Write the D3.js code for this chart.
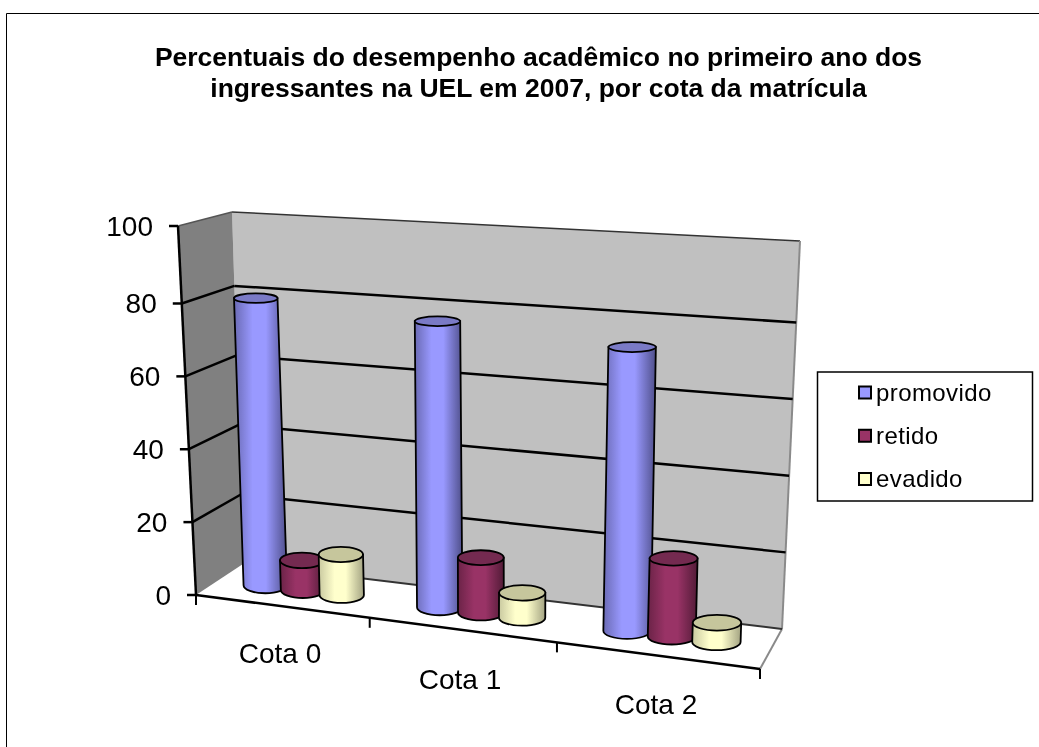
<!DOCTYPE html>
<html lang="pt">
<head>
<meta charset="utf-8">
<title>Desempenho acadêmico UEL 2007</title>
<script src="https://d3js.org/d3.v7.min.js"></script>
<style>
body{ margin:0; background:#fff; }
svg{ display:block; }
text{ font-family:"Liberation Sans",Arial,sans-serif; fill:#000; }
.soft{ filter:blur(0.35px); }
</style>
</head>
<body>
<div id="chart"></div>
<script>
const categories = ["Cota 0", "Cota 1", "Cota 2"];
const seriesNames = ["promovido", "retido", "evadido"];
const promovido = [80, 77.3, 74.3];
const retido = [8.2, 14.7, 20.3];
const evadido = [11.1, 6.6, 5];
const yTicks = [0, 20, 40, 60, 80, 100];
const titleLines = ["Percentuais do desempenho acadêmico no primeiro ano dos",
                    "ingressantes na UEL em 2007, por cota da matrícula"];
const values = [promovido, retido, evadido];

const W = 1039, H = 747;
const colors = [
  {side:"#9999ff", edge:"#6a6ab4", dark:"#4f4f8a", top:"#7a7ac6"},
  {side:"#993366", edge:"#6b2347", dark:"#521b37", top:"#742a50"},
  {side:"#ffffcc", edge:"#c9c9a0", dark:"#a3a382", top:"#c6c69c"}
];

const svg = d3.select("#chart").append("svg").attr("width", W).attr("height", H);
const defs = svg.append("defs");

// frame corners of the 3D box, value 0 and value 100
const floorFL = [196,595], floorFR = [760,669], floorBL = [243,564], floorBR = [782,629];
const topFL = [178,226], topFR = [771,265], topBL = [232,212], topBR = [800,241];

// the picture has a bit of perspective, so neither direction is quite linear
const tx = d3.scaleLinear().domain([0,1/6,1/3,1/2,2/3,5/6,1]).range([0,.151,.308,.474,.64,.82,1]);
const vy = d3.scaleLinear().domain([0,80,100]).range([0,.79,1]);
const lerp = (a,b,t) => [a[0]+(b[0]-a[0])*t, a[1]+(b[1]-a[1])*t];

// t along categories, d depth (0 front, 1 back), v value
function project(t,d,v){
  const u = tx(t), k = vy(v);
  const f = lerp(lerp(floorFL,floorFR,u), lerp(floorBL,floorBR,u), d);
  const c = lerp(lerp(topFL,topFR,u), lerp(topBL,topBR,u), d);
  return lerp(f,c,k);
}
const poly = pts => "M"+pts.map(p=>p.join(",")).join("L")+"Z";
const seg = (g,a,b,col,w) => g.append("line").attr("x1",a[0]).attr("y1",a[1]).attr("x2",b[0]).attr("y2",b[1])
  .attr("stroke",col).attr("stroke-width",w);

const x0 = d3.scaleBand().domain(categories).range([0,1]);
const x1 = d3.scalePoint().domain(seriesNames).range([-0.075,0.075]);
const rx = d3.scaleLinear().domain([0,1]).range([21.5,24.5]);
const ry = d3.scaleLinear().domain([0,100]).range([8,4]);

// page frame
const frame = svg.append("g");
seg(frame,[6.5,13.5],[W,13.5],"#000",1);
seg(frame,[6.5,13.5],[6.5,H],"#000",1);

const root = svg.append("g").attr("class","soft");

// title
root.append("g").selectAll("text").data(titleLines).enter().append("text")
  .attr("x",538.5).attr("y",(d,i)=>66+i*31)
  .attr("text-anchor","middle").attr("font-weight","bold").attr("font-size",26.5)
  .text(d=>d);

// walls
const walls = root.append("g");
walls.append("path").attr("d",poly([floorFL,floorFR,floorBR,floorBL])).attr("fill","#fff");
walls.append("path").attr("d",poly([topBL,topBR,floorBR,floorBL])).attr("fill","#c0c0c0");
walls.append("path").attr("d",poly([topFL,topBL,floorBL,floorFL])).attr("fill","#808080");
seg(walls,topBL,topBR,"#333",1.5);
seg(walls,topFL,topBL,"#555",1.5);
seg(walls,topBR,floorBR,"#8a8a8a",2);
seg(walls,floorBR,floorFR,"#8a8a8a",2);
seg(walls,floorBL,floorBR,"#333",2);

// gridlines
const grid = root.append("g");
yTicks.filter(v=>v>0 && v<100).forEach(v=>{
  seg(grid,project(0,1,v),project(1,1,v),"#000",2.5);
  seg(grid,project(0,0,v),project(0,1,v),"#000",2.5);
});

// axes
const axis = root.append("g");
seg(axis,floorFL,topFL,"#000",2.5);
seg(axis,floorFL,floorFR,"#000",2.5);
yTicks.forEach(v=>{
  const p = project(0,0,v);
  seg(axis,[p[0]-9,p[1]],p,"#000",2.5);
  root.append("text").attr("x",p[0]-25).attr("y",p[1]+10).attr("text-anchor","end")
    .attr("font-size",28).text(v);
});
[0,1/3,2/3,1].forEach(t=>{
  const p = project(t,0,0);
  seg(axis,p,[p[0],p[1]+10],"#000",2);
});
const labelPos = [[280,663],[460,689],[656,714]];
categories.forEach((c,i)=>{
  root.append("text").attr("x",labelPos[i][0]).attr("y",labelPos[i][1]).attr("text-anchor","middle")
    .attr("font-size",28).text(c);
});

// cylinders
const bars = root.append("g");
seriesNames.forEach((s,j)=>{
  const g = defs.append("linearGradient").attr("id","grad"+j);
  g.append("stop").attr("offset","0").attr("stop-color",colors[j].edge);
  g.append("stop").attr("offset","0.35").attr("stop-color",colors[j].side);
  g.append("stop").attr("offset","0.6").attr("stop-color",colors[j].side);
  g.append("stop").attr("offset","1").attr("stop-color",colors[j].dark);
});
categories.forEach((c,i)=>{
  seriesNames.forEach((s,j)=>{
    const v = values[j][i];
    const t = x0(c)+x0.bandwidth()/2+x1(s);
    const b = project(t,0.5,0), a = project(t,0.5,v);
    const r = rx(tx(t)), r0 = ry(0), r1 = ry(v);
    bars.append("path")
      .attr("d",`M${a[0]-r},${a[1]}L${b[0]-r},${b[1]}A${r},${r0} 0 0 0 ${b[0]+r},${b[1]}L${a[0]+r},${a[1]}Z`)
      .attr("fill",`url(#grad${j})`).attr("stroke","#000").attr("stroke-width",1.8);
    bars.append("ellipse").attr("cx",a[0]).attr("cy",a[1]).attr("rx",r).attr("ry",r1)
      .attr("fill",colors[j].top).attr("stroke","#000").attr("stroke-width",1.8);
  });
});

// legend
const legend = root.append("g");
legend.append("rect").attr("x",817.5).attr("y",372).attr("width",215).attr("height",129)
  .attr("fill","#fff").attr("stroke","#000").attr("stroke-width",1.5);
seriesNames.forEach((s,j)=>{
  const y = d3.scaleLinear().domain([0,2]).range([392.5,479])(j);
  legend.append("rect").attr("x",859).attr("y",y-6).attr("width",12).attr("height",12)
    .attr("fill",colors[j].side).attr("stroke","#000").attr("stroke-width",2);
  legend.append("text").attr("x",876).attr("y",y+8).attr("font-size",24).attr("letter-spacing",0.4).text(s);
});
</script>
</body>
</html>
